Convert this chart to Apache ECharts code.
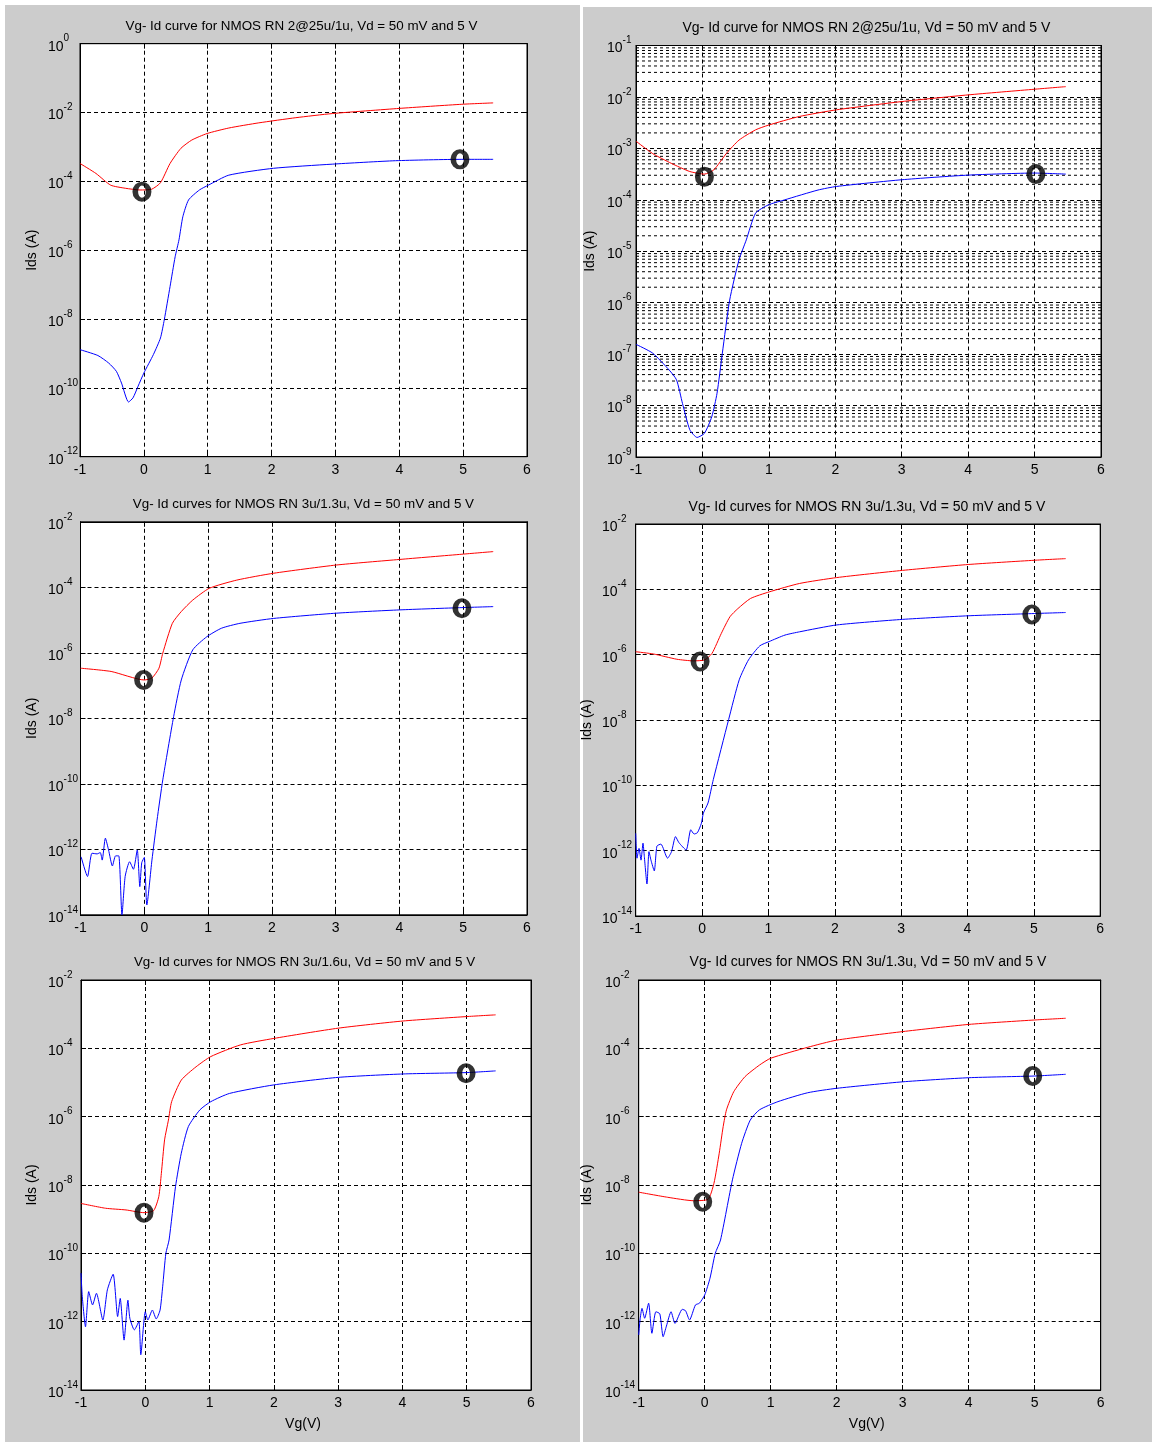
<!DOCTYPE html>
<html>
<head>
<meta charset="utf-8">
<script src="https://cdn.jsdelivr.net/npm/echarts@6/dist/echarts.min.js"></script>
<style>
  html, body { margin: 0; padding: 0; background: #ffffff; }
  #chart { width: 1155px; height: 1442px; }
</style>
</head>
<body>
<div id="chart"></div>
<script>
// Vg-Id transfer curves of NMOS devices. Currents are stored as log10(Ids / A),
// gate voltages in volts. Red: Vd = 5 V, blue: Vd = 50 mV.

// --- RN 2@25u/1u (coarse grid) ---
const p1RedX   = [-1.0, -0.75, -0.52, -0.29, -0.06, 0.12, 0.26, 0.41, 0.58, 0.75, 0.99, 1.33, 1.80, 2.38, 2.95, 4.00, 4.98, 5.47];
const p1RedLog = [-3.48, -3.77, -4.11, -4.20, -4.25, -4.23, -4.04, -3.48, -3.04, -2.80, -2.61, -2.45, -2.30, -2.15, -2.03, -1.88, -1.76, -1.72];
const p1BlueX   = [-1.0, -0.72, -0.55, -0.43, -0.35, -0.24, -0.17, -0.09, 0.0, 0.15, 0.26, 0.32, 0.41, 0.49, 0.55, 0.61, 0.70, 0.87, 1.01, 1.33, 2.03, 2.95, 3.94, 4.98, 5.47];
const p1BlueLog = [-8.89, -9.06, -9.28, -9.52, -9.86, -10.41, -10.29, -9.95, -9.57, -9.03, -8.55, -8.02, -7.06, -6.19, -5.70, -5.03, -4.54, -4.25, -4.11, -3.82, -3.62, -3.50, -3.40, -3.36, -3.36];
const p1RingX   = [-0.03, 4.95];
const p1RingLog = [-4.30, -3.36];

// --- RN 2@25u/1u (fine grid) ---
const p2RedX   = [-1.0, -0.75, -0.47, -0.19, 0.03, 0.17, 0.36, 0.55, 0.80, 0.99, 1.46, 2.02, 3.0, 4.0, 5.0, 5.47];
const p2RedLog = [-2.86, -3.10, -3.29, -3.45, -3.50, -3.42, -3.10, -2.84, -2.64, -2.55, -2.38, -2.25, -2.09, -1.96, -1.85, -1.80];
const p2BlueX   = [-1.0, -0.75, -0.50, -0.39, -0.30, -0.19, -0.08, 0.03, 0.14, 0.22, 0.30, 0.41, 0.55, 0.66, 0.80, 0.99, 1.24, 1.74, 2.02, 3.0, 4.0, 5.0, 5.47];
const p2BlueLog = [-6.81, -6.98, -7.31, -7.50, -7.96, -8.47, -8.62, -8.54, -8.22, -7.76, -6.98, -5.95, -5.17, -4.78, -4.26, -4.10, -4.00, -3.81, -3.74, -3.61, -3.52, -3.48, -3.50];
const p2RingX   = [0.03, 5.02];
const p2RingLog = [-3.55, -3.50];

// --- RN 3u/1.3u (first run) ---
const p3RedX   = [-1.0, -0.52, 0.0, 0.12, 0.23, 0.29, 0.44, 0.58, 0.76, 1.02, 1.45, 2.03, 3.01, 4.0, 4.98, 5.47];
const p3RedLog = [-6.47, -6.57, -6.83, -6.77, -6.47, -6.01, -5.10, -4.74, -4.39, -4.03, -3.78, -3.57, -3.32, -3.15, -2.99, -2.91];
const p3BlueX   = [-0.99, -0.89, -0.82, -0.74, -0.69, -0.66, -0.61, -0.56, -0.50, -0.45, -0.40, -0.35, -0.30, -0.23, -0.17, -0.11, -0.07, -0.04, 0.0, 0.04, 0.12, 0.20, 0.29, 0.46, 0.58, 0.76, 0.98, 1.21, 1.50, 2.03, 3.01, 4.0, 4.98, 5.47];
const p3BlueLog = [-12.23, -12.83, -12.12, -12.14, -12.10, -12.33, -11.66, -12.02, -12.51, -12.20, -12.20, -14.0, -12.83, -12.38, -12.61, -12.02, -13.14, -12.41, -12.25, -13.70, -12.33, -11.11, -9.88, -7.95, -6.83, -5.91, -5.51, -5.25, -5.10, -4.95, -4.79, -4.69, -4.62, -4.59];
const p3RingX   = [-0.01, 4.98];
const p3RingLog = [-6.83, -4.64];

// --- RN 3u/1.3u (second run) ---
const p4RedX   = [-1.0, -0.73, -0.38, -0.13, 0.04, 0.15, 0.29, 0.42, 0.54, 0.73, 1.01, 1.47, 2.03, 3.02, 4.01, 5.01, 5.48];
const p4RedLog = [-5.91, -5.98, -6.14, -6.19, -6.16, -5.96, -5.35, -4.84, -4.59, -4.28, -4.08, -3.82, -3.64, -3.42, -3.24, -3.11, -3.06];
const p4BlueX   = [-1.0, -0.98, -0.95, -0.92, -0.89, -0.87, -0.83, -0.80, -0.77, -0.72, -0.68, -0.62, -0.52, -0.46, -0.40, -0.35, -0.24, -0.17, -0.12, -0.07, -0.01, 0.02, 0.09, 0.17, 0.40, 0.56, 0.70, 0.87, 1.01, 1.25, 1.47, 2.03, 3.02, 4.01, 5.01, 5.48];
const p4BlueLog = [-11.47, -12.23, -11.93, -12.29, -11.77, -12.18, -13.02, -12.03, -12.29, -12.62, -11.86, -11.80, -12.23, -12.03, -11.57, -11.75, -11.98, -11.36, -11.49, -11.45, -11.16, -10.85, -10.54, -9.82, -7.99, -6.77, -6.16, -5.73, -5.60, -5.40, -5.30, -5.09, -4.92, -4.81, -4.74, -4.71];
const p4RingX   = [-0.03, 4.97];
const p4RingLog = [-6.21, -4.77];

// --- RN 3u/1.6u ---
const p5RedX   = [-1.0, -0.62, -0.30, -0.02, 0.13, 0.21, 0.25, 0.30, 0.36, 0.41, 0.56, 0.79, 1.02, 1.48, 2.0, 3.0, 4.01, 5.0, 5.45];
const p5RedLog = [-8.54, -8.68, -8.73, -8.81, -8.75, -8.34, -7.66, -6.68, -6.10, -5.56, -4.93, -4.54, -4.24, -3.90, -3.71, -3.41, -3.20, -3.07, -3.02];
const p5BlueX   = [-1.0, -0.98, -0.93, -0.88, -0.82, -0.76, -0.66, -0.59, -0.50, -0.43, -0.39, -0.33, -0.27, -0.24, -0.17, -0.10, -0.07, 0.0, 0.04, 0.11, 0.17, 0.23, 0.27, 0.32, 0.37, 0.47, 0.56, 0.67, 0.85, 1.02, 1.31, 2.0, 3.0, 4.01, 5.0, 5.45];
const p5BlueLog = [-10.58, -11.27, -12.15, -11.12, -11.51, -11.17, -11.95, -11.07, -10.61, -11.85, -11.32, -12.54, -11.37, -11.90, -12.24, -12.00, -12.97, -11.71, -11.95, -11.66, -11.92, -11.66, -10.98, -10.0, -9.61, -8.05, -7.07, -6.29, -5.80, -5.56, -5.32, -5.07, -4.85, -4.75, -4.71, -4.66];
const p5RingX   = [-0.02, 4.99];
const p5RingLog = [-8.81, -4.73];

// --- RN 3u/1.3u (third run) ---
const p6RedX   = [-1.0, -0.56, -0.17, 0.05, 0.14, 0.22, 0.28, 0.33, 0.44, 0.61, 0.83, 1.0, 1.56, 2.0, 3.0, 4.0, 5.0, 5.47];
const p6RedLog = [-8.21, -8.36, -8.46, -8.42, -7.95, -7.07, -6.29, -5.80, -5.27, -4.83, -4.49, -4.29, -3.97, -3.76, -3.51, -3.30, -3.17, -3.12];
const p6BlueX   = [-1.0, -0.98, -0.95, -0.91, -0.85, -0.80, -0.74, -0.68, -0.63, -0.58, -0.51, -0.45, -0.34, -0.29, -0.23, -0.14, -0.08, 0.0, 0.08, 0.16, 0.24, 0.42, 0.56, 0.69, 0.83, 1.11, 1.56, 2.0, 3.0, 4.0, 5.0, 5.47];
const p6BlueLog = [-12.39, -11.95, -11.61, -11.90, -11.46, -12.34, -11.71, -11.77, -12.44, -12.13, -11.71, -12.05, -11.64, -11.68, -11.95, -11.51, -11.46, -11.22, -10.73, -10.0, -9.61, -7.85, -6.78, -6.10, -5.80, -5.56, -5.30, -5.17, -4.98, -4.86, -4.81, -4.76];
const p6RingX   = [-0.03, 4.97];
const p6RingLog = [-8.49, -4.81];

// Titles and axis texts
const titles = [
  'Vg- Id curve for NMOS RN 2@25u/1u, Vd = 50 mV and 5 V',
  'Vg- Id curve for NMOS RN 2@25u/1u, Vd = 50 mV and 5 V',
  'Vg- Id curves for NMOS RN 3u/1.3u, Vd = 50 mV and 5 V',
  'Vg- Id curves for NMOS RN 3u/1.3u, Vd = 50 mV and 5 V',
  'Vg- Id curves for NMOS RN 3u/1.6u, Vd = 50 mV and 5 V',
  'Vg- Id curves for NMOS RN 3u/1.3u, Vd = 50 mV and 5 V'
];
const yAxisTitle = 'Ids (A)';
const xAxisTitle = 'Vg(V)';
const xRange = [-1, 6];
const yDecades = [[-12, 0, 2], [-9, -1, 1], [-14, -2, 2], [-14, -2, 2], [-14, -2, 2], [-14, -2, 2]];

const curves = [
  { redX: p1RedX, redLog: p1RedLog, blueX: p1BlueX, blueLog: p1BlueLog, ringX: p1RingX, ringLog: p1RingLog },
  { redX: p2RedX, redLog: p2RedLog, blueX: p2BlueX, blueLog: p2BlueLog, ringX: p2RingX, ringLog: p2RingLog },
  { redX: p3RedX, redLog: p3RedLog, blueX: p3BlueX, blueLog: p3BlueLog, ringX: p3RingX, ringLog: p3RingLog },
  { redX: p4RedX, redLog: p4RedLog, blueX: p4BlueX, blueLog: p4BlueLog, ringX: p4RingX, ringLog: p4RingLog },
  { redX: p5RedX, redLog: p5RedLog, blueX: p5BlueX, blueLog: p5BlueLog, ringX: p5RingX, ringLog: p5RingLog },
  { redX: p6RedX, redLog: p6RedLog, blueX: p6BlueX, blueLog: p6BlueLog, ringX: p6RingX, ringLog: p6RingLog }
];

// Page layout of the six axes boxes (pixels)
const boxes = [
  { left: 80,    top: 43.7,  width: 447,   height: 413,   labelStart: 48,  titleX: 301.5, titleY: 26.5,  titleSize: 13.4, nameX: 32.5, minorGrid: false, xName: false },
  { left: 636,   top: 45.5,  width: 465,   height: 411.5, labelStart: 607, titleX: 866.4, titleY: 28,    titleSize: 14,   nameX: 590,  minorGrid: true,  xName: false },
  { left: 80.5,  top: 521.8, width: 446.5, height: 393,   labelStart: 48,  titleX: 303.4, titleY: 504,   titleSize: 13.4, nameX: 32.5, minorGrid: false, xName: false },
  { left: 635.7, top: 524,   width: 464.5, height: 392,   labelStart: 602, titleX: 867,   titleY: 506.7, titleSize: 14,   nameX: 587,  minorGrid: false, xName: false },
  { left: 81,    top: 980,   width: 450,   height: 410,   labelStart: 48,  titleX: 304.5, titleY: 962.3, titleSize: 13.4, nameX: 32.5, minorGrid: false, xName: true },
  { left: 638.7, top: 980,   width: 462,   height: 410,   labelStart: 605, titleX: 868,   titleY: 962.3, titleSize: 14,   nameX: 587,  minorGrid: false, xName: true }
];

const FONT = '"Liberation Sans", Arial, Helvetica, sans-serif';
const dash = [4, 3];
// Bold ring used to flag the operating points (outer ellipse minus inner ellipse)
const RING = 'path://M0,19.5 A18.5,19.5 0 1,1 37,19.5 A18.5,19.5 0 1,1 0,19.5 Z M11,19.5 A7.5,12 0 1,0 26,19.5 A7.5,12 0 1,0 11,19.5 Z';

const toPoints = (xs, logs) => xs.map((x, i) => [x, Math.pow(10, logs[i])]);
const powerLabel = v => '{b|10}{e|' + Math.round(Math.log10(v)) + '}';

const option = {
  backgroundColor: '#cccccc',
  animation: false,
  grid: [], xAxis: [], yAxis: [], series: [],
  graphic: [
    { type: 'rect', shape: { x: 0, y: 0, width: 5, height: 1442 }, style: { fill: '#ffffff' } },
    { type: 'rect', shape: { x: 0, y: 0, width: 1155, height: 5 }, style: { fill: '#ffffff' } },
    { type: 'rect', shape: { x: 580, y: 0, width: 575, height: 7 }, style: { fill: '#ffffff' } },
    { type: 'rect', shape: { x: 580, y: 0, width: 3, height: 1442 }, style: { fill: '#ffffff' } },
    { type: 'rect', shape: { x: 1152, y: 0, width: 3, height: 1442 }, style: { fill: '#ffffff' } }
  ]
};

boxes.forEach((b, i) => {
  const [e0, e1, step] = yDecades[i];
  const c = curves[i];
  option.grid.push({
    left: b.left, top: b.top, width: b.width, height: b.height,
    show: true, backgroundColor: '#ffffff', borderColor: '#000000', borderWidth: 1
  });

  const axisLine = { show: true, onZero: false, lineStyle: { color: '#000000', width: 1 } };
  const tick = { show: true, inside: true, length: 5, lineStyle: { color: '#000000', width: 1 } };
  const xi = option.xAxis.length;
  option.xAxis.push({
    type: 'value', gridIndex: i, min: xRange[0], max: xRange[1], interval: 1, position: 'bottom',
    axisLine, axisTick: tick,
    axisLabel: { show: true, margin: 6, color: '#000000', fontSize: 14, fontFamily: FONT, formatter: v => String(v) },
    splitLine: { show: true, lineStyle: { color: '#000000', width: 1, type: dash } }
  });
  option.xAxis.push({
    type: 'value', gridIndex: i, min: xRange[0], max: xRange[1], interval: 1, position: 'top',
    axisLine, axisTick: tick, axisLabel: { show: false }, splitLine: { show: false }
  });

  const yi = option.yAxis.length;
  option.yAxis.push({
    type: 'log', logBase: 10, gridIndex: i, min: Math.pow(10, e0), max: Math.pow(10, e1), interval: step,
    position: 'left', axisLine, axisTick: tick,
    axisLabel: {
      show: true, align: 'left', margin: b.left - b.labelStart, color: '#000000', fontFamily: FONT,
      formatter: powerLabel,
      rich: {
        b: { fontSize: 14, lineHeight: 20, verticalAlign: 'bottom', fontFamily: FONT, color: '#000000' },
        e: { fontSize: 10, lineHeight: 10, verticalAlign: 'top', fontFamily: FONT, color: '#000000' }
      }
    },
    splitLine: { show: true, lineStyle: { color: '#000000', width: 1, type: dash } }
  });
  option.yAxis.push({
    type: 'log', logBase: 10, gridIndex: i, min: Math.pow(10, e0), max: Math.pow(10, e1), interval: step,
    position: 'right', axisLine, axisTick: tick, axisLabel: { show: false }, splitLine: { show: false }
  });

  if (b.minorGrid) {
    // dotted minor grid at 2..9 x 10^n, one broken polyline across the box
    const minor = [];
    for (let n = e0; n < e1; n++) {
      for (let k = 2; k <= 9; k++) {
        const v = k * Math.pow(10, n);
        minor.push([xRange[0], v], [xRange[1], v], [xRange[1], '-']);
      }
    }
    option.series.push({
      type: 'line', xAxisIndex: xi, yAxisIndex: yi, data: minor, connectNulls: false,
      showSymbol: false, symbol: 'none', silent: true, z: 1,
      lineStyle: { color: '#000000', width: 1, type: [3, 3] }
    });
  }

  option.series.push({
    type: 'line', xAxisIndex: xi, yAxisIndex: yi, data: toPoints(c.redX, c.redLog),
    showSymbol: false, symbol: 'none', z: 3, smooth: 0.2,
    lineStyle: { color: '#ff0000', width: 1 }, silent: true
  });
  option.series.push({
    type: 'line', xAxisIndex: xi, yAxisIndex: yi, data: toPoints(c.blueX, c.blueLog),
    showSymbol: false, symbol: 'none', z: 3, smooth: 0.2,
    lineStyle: { color: '#0000ff', width: 1 }, silent: true
  });
  option.series.push({
    type: 'scatter', xAxisIndex: xi, yAxisIndex: yi, data: toPoints(c.ringX, c.ringLog),
    symbol: RING, symbolSize: [19, 20], z: 5, silent: true,
    itemStyle: { color: '#000000', borderWidth: 0 }
  });

  option.graphic.push({
    type: 'text', x: b.titleX, y: b.titleY,
    style: { text: titles[i], textAlign: 'center', textVerticalAlign: 'middle', font: b.titleSize + 'px ' + FONT, fill: '#000000' }
  });
  option.graphic.push({
    type: 'text', x: b.nameX, y: b.top + b.height / 2, rotation: Math.PI / 2,
    style: { text: yAxisTitle, textAlign: 'center', textVerticalAlign: 'middle', font: '14px ' + FONT, fill: '#000000' }
  });
  if (b.xName) {
    option.graphic.push({
      type: 'text', x: b.left + b.width / 2 - 3, y: 1424,
      style: { text: xAxisTitle, textAlign: 'center', textVerticalAlign: 'middle', font: '14px ' + FONT, fill: '#000000' }
    });
  }
});

const chart = echarts.init(document.getElementById('chart'), null, { renderer: 'canvas' });
chart.setOption(option);
</script>
</body>
</html>
